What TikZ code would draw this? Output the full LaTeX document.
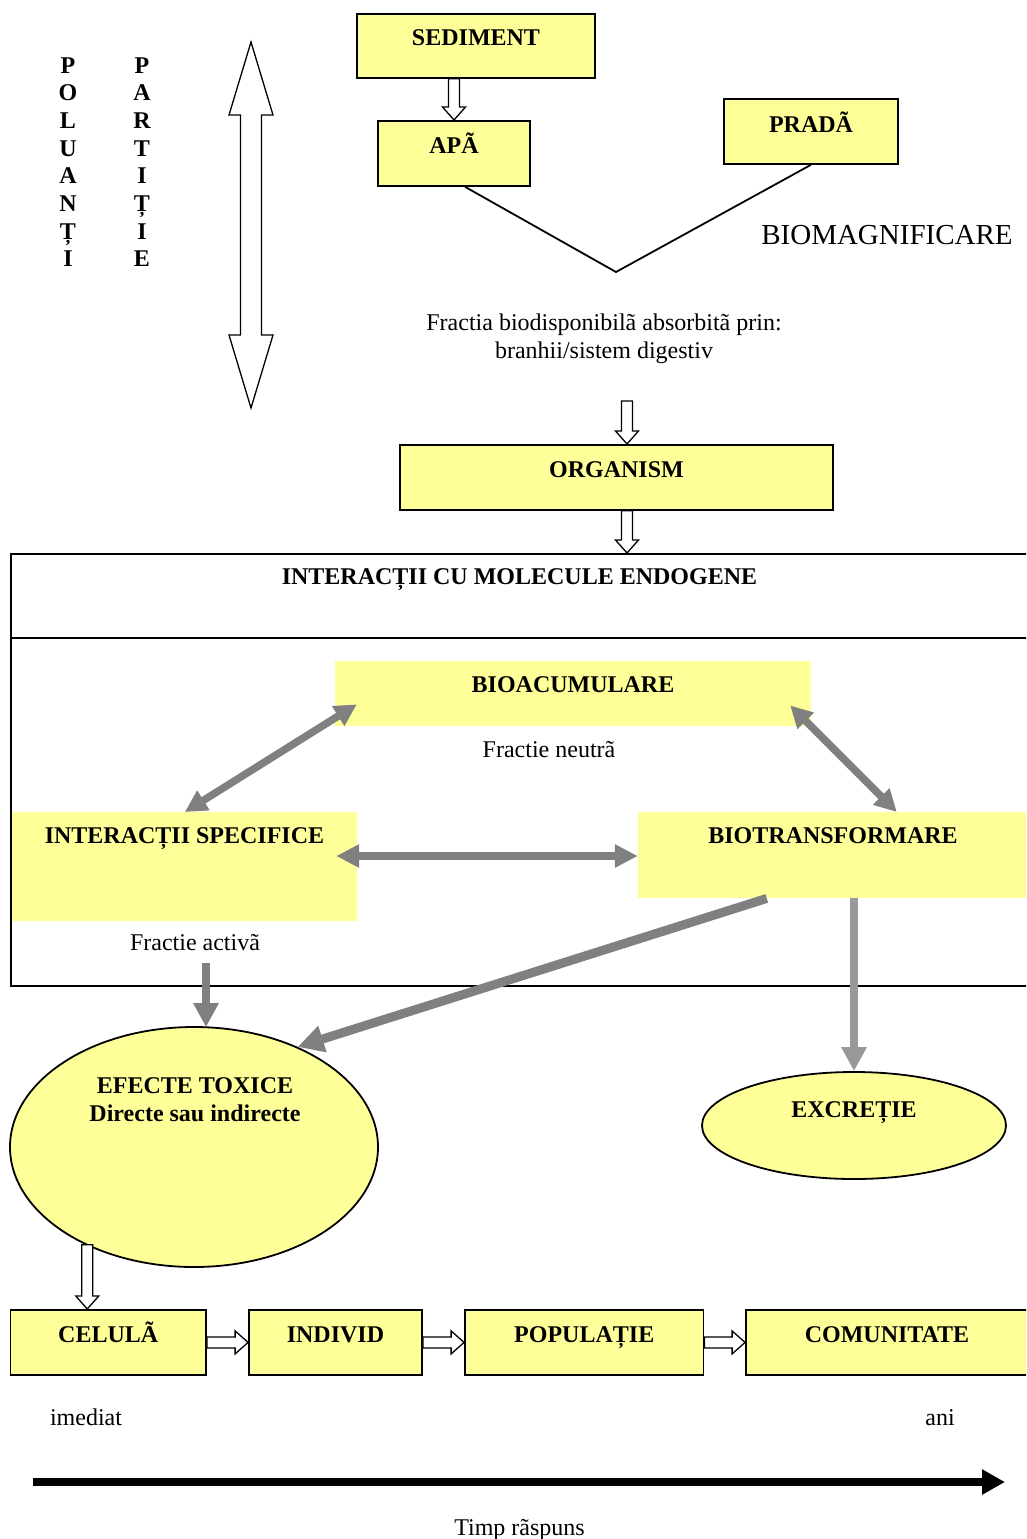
\documentclass[tikz,border=0pt]{standalone}
\usepackage{fontspec}
\setmainfont{Liberation Serif}
\usetikzlibrary{calc,arrows.meta,shapes.geometric}
\definecolor{yel}{HTML}{FFFF99}
\definecolor{garr}{HTML}{808080}
\definecolor{garl}{HTML}{999999}
\newcommand\fsb{\fontsize{24}{28}\selectfont\bfseries}
\newcommand\fsr{\fontsize{24}{28}\selectfont}
% hollow arrow pointing down, from #1 to the tip #2
\newcommand\hollowV[2]{\filldraw[hollow] let \p1=#1, \p2=#2 in
  (\x2-5.5pt,\y1) -- (\x2+5.5pt,\y1) -- (\x2+5.5pt,\y2+13pt) -- (\x2+11.5pt,\y2+13pt)
  -- (\x2,\y2) -- (\x2-11.5pt,\y2+13pt) -- (\x2-5.5pt,\y2+13pt) -- cycle;}
% hollow arrow pointing right, from #1 to the tip #2
\newcommand\hollowH[2]{\filldraw[hollow] let \p1=#1, \p2=#2 in
  (\x1,\y1-5.5pt) -- (\x2-13pt,\y1-5.5pt) -- (\x2-13pt,\y1-11.5pt) -- (\x2,\y1)
  -- (\x2-13pt,\y1+11.5pt) -- (\x2-13pt,\y1+5.5pt) -- (\x1,\y1+5.5pt) -- cycle;}
\begin{document}
\begin{tikzpicture}[x=1pt,y=-1pt,
  ybox/.style={draw, fill=yel, line width=1.8pt, inner sep=0pt, font=\fsb, anchor=north,
               text height=33pt, text depth=32pt},
  yfill/.style={fill=yel, inner sep=0pt, font=\fsb, anchor=north, text height=31pt},
  ell/.style={ellipse, draw, fill=yel, line width=1.8pt, inner sep=0pt, font=\fsb},
  lbl/.style={font=\fsr, anchor=base, inner sep=0pt},
  blbl/.style={font=\fsb, anchor=base, inner sep=0pt},
  hollow/.style={draw=black, fill=white, line width=1.3pt, line join=miter},
  gtip/.tip={Triangle[length=24pt,width=24pt]},
  garrow/.style={draw=garr, line width=7.5pt},
]
\useasboundingbox (0,0) rectangle (1026,1539);
\clip (0,0) rectangle (1026,1539);

% ---- vertical letters
\foreach \l [count=\i from 0] in {P,O,L,U,A,N,Ț,I}
  \node[blbl] (pol\i) at (68,73+27.7*\i) {\l};
\foreach \l [count=\i from 0] in {P,A,R,T,I,Ț,I,E}
  \node[blbl] (par\i) at (142,73+27.7*\i) {\l};

% ---- double hollow arrow
\filldraw[hollow] (251,42) -- (273,115) -- (261.5,115) -- (261.5,335) -- (273,335)
  -- (251,408) -- (229,335) -- (240.5,335) -- (240.5,115) -- (229,115) -- cycle;

% ---- top boxes
\node[ybox, minimum width=238pt, text height=32pt] (sed) at (476,13) {SEDIMENT};
\node[ybox, minimum width=152pt] (apa) at (454,120) {APÃ};
\node[ybox, minimum width=174pt, text height=34pt, text depth=31pt] (pra) at (811,98) {PRADÃ};
\hollowV{(sed.south)}{(apa.north)}

\coordinate (v) at (616,272);
\draw[line width=1.8pt, line join=miter] ($(apa.south)+(11,0)$) -- (v) -- (pra.south);
\node[lbl, font=\fontsize{29}{34}\selectfont] (bmag) at (887,244) {BIOMAGNIFICARE};

\node[lbl] (fr1) at (604,330) {Fractia biodisponibilã absorbitã prin:};
\node[lbl] (fr2) at (604,358) {branhii/sistem digestiv};

\node[ybox, minimum width=433pt] (org) at (616.5,444) {ORGANISM};
\coordinate (fra) at (627,401);
\hollowV{(fra)}{($(org.north)+(10.5,0)$)}

% ---- big frame
\node[draw, line width=1.8pt, inner sep=0pt, anchor=north, minimum width=1017pt,
      text height=31pt, text depth=401pt, font=\fsb] (endo) at (519.5,553)
      {INTERACȚII CU MOLECULE ENDOGENE};
\draw[line width=1.8pt] ($(endo.north west)+(0,85)$) -- ($(endo.north east)+(0,85)$);
\hollowV{($(org.south)+(10.5,0)$)}{($(endo.north)+(107.5,0)$)}

\node[yfill, minimum width=476pt, text depth=34pt] (bio) at (573,661) {BIOACUMULARE};
\node[yfill, minimum width=345pt, text depth=78pt] (isp) at (184.5,812) {INTERACȚII SPECIFICE};
\node[yfill, minimum width=390pt, text depth=55pt] (btr) at (833,812) {BIOTRANSFORMARE};
\node[lbl] (fn) at (549,757) {Fractie neutrã};
\node[lbl] (fa) at (195,950) {Fractie activã};

% ---- ellipses
\node[ell, minimum width=368pt, minimum height=240pt] (tox) at (194,1147) {};
\node[blbl] (tox1) at (195,1093) {EFECTE TOXICE};
\node[blbl] (tox2) at (195,1121) {Directe sau indirecte};
\node[ell, minimum width=304pt, minimum height=107pt, text height=16pt, text depth=33pt]
      (exc) at (854,1125.5) {EXCREȚIE};

% ---- gray arrows
\draw[garrow, {Triangle[length=22pt,width=22pt]}-{Triangle[length=22pt,width=22pt]}]
  ($(bio.south west)+(22,-22)$) -- ($(isp.north west)+(173,0)$);
\draw[garrow, {Triangle[length=22pt,width=22pt]}-{Triangle[length=22pt,width=22pt]}]
  ($(bio.south east)+(-21,-21)$) -- ($(btr.north west)+(259,0)$);
\draw[garrow, {Triangle[length=23pt,width=22pt]}-{Triangle[length=23pt,width=22pt]}]
  ($(isp.north east)+(-21,44)$) -- ($(btr.north west)+(0,44)$);
\draw[garrow, line width=8pt, -{gtip}] ($(fa.base)+(11,13)$) -- ($(tox.north)+(12,1)$);
\draw[garrow, line width=9pt, -{Triangle[length=26pt,width=26pt]}]
  ($(btr.south west)+(129,0)$) -- (tox.44);
\draw[draw=garl, line width=8pt, -{gtip}] (exc.north |- btr.south) -- (exc.north);

% ---- bottom chain
\node[ybox, minimum width=195.5pt] (cel) at (108.25,1309) {CELULÃ};
\node[ybox, minimum width=173pt] (ind) at (335.5,1309) {INDIVID};
\node[ybox, minimum width=238.5pt] (pop) at (584.25,1309) {POPULAȚIE};
\node[ybox, minimum width=282pt] (com) at (887,1309) {COMUNITATE};
\hollowV{(tox.222.4)}{($(cel.north)+(-21,0)$)}
\hollowH{(cel.east)}{(ind.west)}
\hollowH{(ind.east)}{(pop.west)}
\hollowH{(pop.east)}{(com.west)}

\node[lbl] (imd) at (86,1425) {imediat};
\node[lbl] (ani) at (940,1425) {ani};
\coordinate (t1) at (33,1482);
\coordinate (t2) at (1005,1482);
\draw[line width=8pt, -{Triangle[length=23pt,width=24pt]}] (t1) -- (t2);
\node[lbl] (tr) at (519.5,1535) {Timp rãspuns};
\end{tikzpicture}
\end{document}
